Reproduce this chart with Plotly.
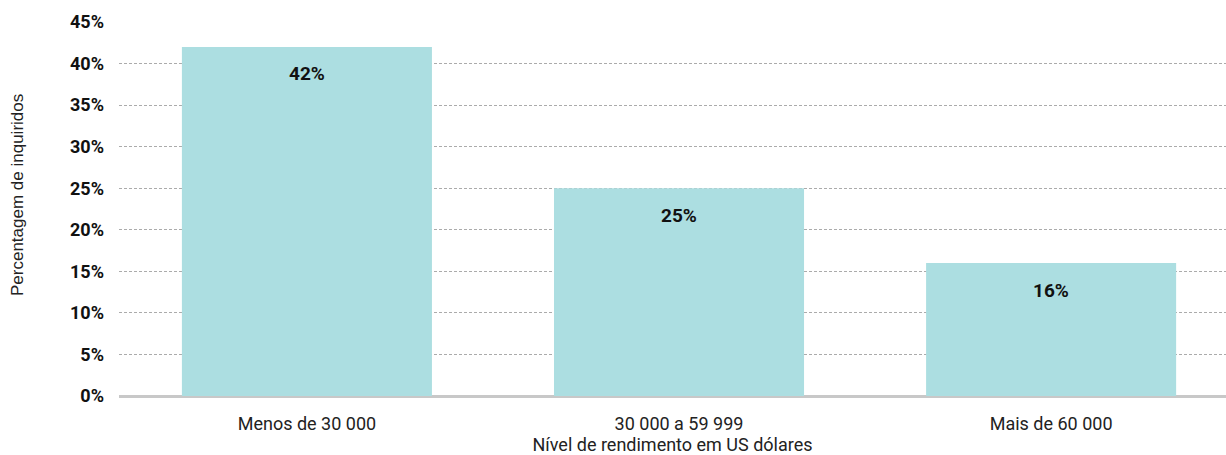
import plotly.graph_objects as go

categories = ["Menos de 30 000", "30 000 a 59 999", "Mais de 60 000"]
values = [42, 25, 16]
value_labels = ["42%", "25%", "16%"]
y_ticks = [0, 5, 10, 15, 20, 25, 30, 35, 40, 45]
y_tick_labels = [f"{v}%" for v in y_ticks]

font = "Roboto"
fig = go.Figure()
fig.add_trace(go.Bar(
    x=list(range(len(categories))), y=values,
    marker=dict(color="#acdee1", line=dict(width=0)),
    width=0.672, hoverinfo="skip",
))
for i, (v, t) in enumerate(zip(values, value_labels)):
    fig.add_annotation(x=i, y=v, text=f"<b>{t}</b>", showarrow=False,
                       yanchor="middle", yshift=-27,
                       font=dict(family=font, size=19, color="#111111"))

fig.add_annotation(xref="paper", yref="paper",
                   x=-(119 - 18) / 1107, y=(396 - 195) / 374,
                   text="Percentagem de inquiridos", textangle=-90,
                   showarrow=False, xanchor="center", yanchor="middle",
                   font=dict(family="Liberation Sans", size=17, color="#222222"))

fig.update_layout(
    width=1226, height=455,
    margin=dict(l=119, r=0, t=22, b=59),
    plot_bgcolor="white", paper_bgcolor="white",
    showlegend=False,
    font=dict(family=font, size=18, color="#222222"),
)
fig.update_xaxes(
    range=[-0.505, 2.47], automargin=False,
    tickmode="array", tickvals=list(range(len(categories))), ticktext=categories,
    showgrid=False, zeroline=False, showline=False, ticks="",
    ticklabelstandoff=15,
    tickfont=dict(family=font, size=18, color="#222222"),
    title=dict(text="Nível de rendimento em US dólares", standoff=4,
               font=dict(family=font, size=18, color="#222222")),
)
fig.update_yaxes(
    range=[0, 45], automargin=False,
    tickmode="array", tickvals=y_ticks, ticktext=y_tick_labels,
    showgrid=True, gridcolor="#ababab", griddash="3px,2px", gridwidth=1,
    zeroline=True, zerolinecolor="#c8c8c8", zerolinewidth=3,
    showline=False, ticks="", ticklabelstandoff=14,
    tickfont=dict(family=font, size=18, color="#111111", weight="bold"),
)
fig.write_html("out.html")
